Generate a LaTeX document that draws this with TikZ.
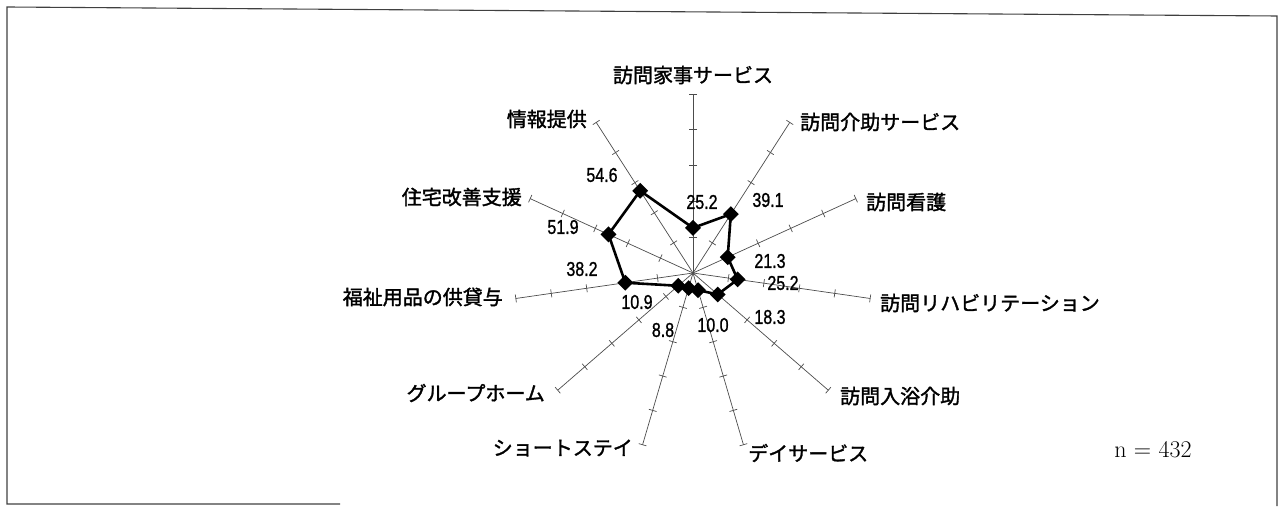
\documentclass[tikz,border=0pt]{standalone}
\usepackage{fontspec}
\newfontfamily\jp[FakeBold=1.6,BoldFont={Noto Sans CJK JP}]{Noto Sans CJK JP}
\newfontfamily\numfont[FakeBold=1.2,BoldFont={Liberation Sans}]{Liberation Sans}
\usetikzlibrary{shapes.geometric,calc}
\newcommand{\vnum}[1]{\scalebox{0.8}[1]{#1}}
\begin{document}
\begin{tikzpicture}[x=1pt,y=1pt,
  axisline/.style={line width=0.7pt,draw=black!70},
  tickmark/.style={line width=0.7pt,draw=black!70},
  datapt/.style={diamond,fill=black,inner sep=0pt,minimum width=16pt,minimum height=16pt},
  dataline/.style={line width=2.6pt,line join=round},
  catlabel/.style={font=\jp\bfseries\fontsize{20}{20}\selectfont,inner sep=0pt},
  vallabel/.style={font=\numfont\bfseries\fontsize{20}{20}\selectfont,inner sep=0pt},
  frameline/.style={line width=1.1pt,draw=black!75}]
\useasboundingbox (0,0) rectangle (1279,506);
% frame
\coordinate (fa) at (340,2);
\coordinate (fb) at (7,2);
\coordinate (fc) at (7,499);
\coordinate (fd) at (1277,490);
\coordinate (fe) at (1277,0);
\draw[frameline] (fa) -- (fb) -- (fc) -- (fd) -- (fe);
% centre
\coordinate (C) at (693,233);
\foreach \i/\v in {0/25.2,1/39.1,2/21.3,3/25.2,4/18.3,5/10.0,6/8.8,7/10.9,8/38.2,9/51.9,10/54.6}{
  \coordinate (e\i) at ($(C)+({90-\i*360/11}:179)$);
  \draw[axisline] (C) -- (e\i);
  \foreach \k in {1,...,5}{
    \coordinate (t\i-\k) at ($(C)+({90-\i*360/11}:{35.8*\k})$);
    \draw[tickmark] ($(t\i-\k)+({-\i*360/11}:4)$) -- ($(t\i-\k)+({180-\i*360/11}:4)$);
  }
  \node[datapt] (p\i) at ($(C)+({90-\i*360/11}:{1.79*\v})$) {};
}
\draw[dataline] (p0.center) -- (p1.center) -- (p2.center) -- (p3.center) -- (p4.center) -- (p5.center) -- (p6.center) -- (p7.center) -- (p8.center) -- (p9.center) -- (p10.center) -- cycle;
% category labels
\node[catlabel] (l0) at (693,431) {訪問家事サービス};
\node[catlabel,anchor=west] (l1) at (800,384) {訪問介助サービス};
\node[catlabel,anchor=west] (l2) at (866,304) {訪問看護};
\node[catlabel,anchor=west] (l3) at (880,203) {訪問リハビリテーション};
\node[catlabel,anchor=west] (l4) at (840,110) {訪問入浴介助};
\node[catlabel,anchor=west] (l5) at (748,53) {デイサービス};
\node[catlabel,anchor=east] (l6) at (633,58) {ショートステイ};
\node[catlabel,anchor=east] (l7) at (545,113) {グループホーム};
\node[catlabel,anchor=east] (l8) at (503,209) {福祉用品の供貸与};
\node[catlabel,anchor=east] (l9) at (522,309) {住宅改善支援};
\node[catlabel,anchor=east] (l10) at (587,387) {情報提供};
% value labels
\node[vallabel] (v0) at (702,304) {\vnum{25.2}};
\node[vallabel] (v1) at (768,306) {\vnum{39.1}};
\node[vallabel] (v2) at (770,245) {\vnum{21.3}};
\node[vallabel] (v3) at (783,223) {\vnum{25.2}};
\node[vallabel] (v4) at (770,189) {\vnum{18.3}};
\node[vallabel] (v5) at (713,181) {\vnum{10.0}};
\node[vallabel] (v6) at (663,176) {\vnum{8.8}};
\node[vallabel] (v7) at (637,204) {\vnum{10.9}};
\node[vallabel] (v8) at (582,237) {\vnum{38.2}};
\node[vallabel] (v9) at (563,279) {\vnum{51.9}};
\node[vallabel] (v10) at (602,331) {\vnum{54.6}};
% sample size
\node[inner sep=0pt,font=\fontsize{24}{24}\selectfont] (nn) at (1153,56) {n = 432};
\end{tikzpicture}
\end{document}
